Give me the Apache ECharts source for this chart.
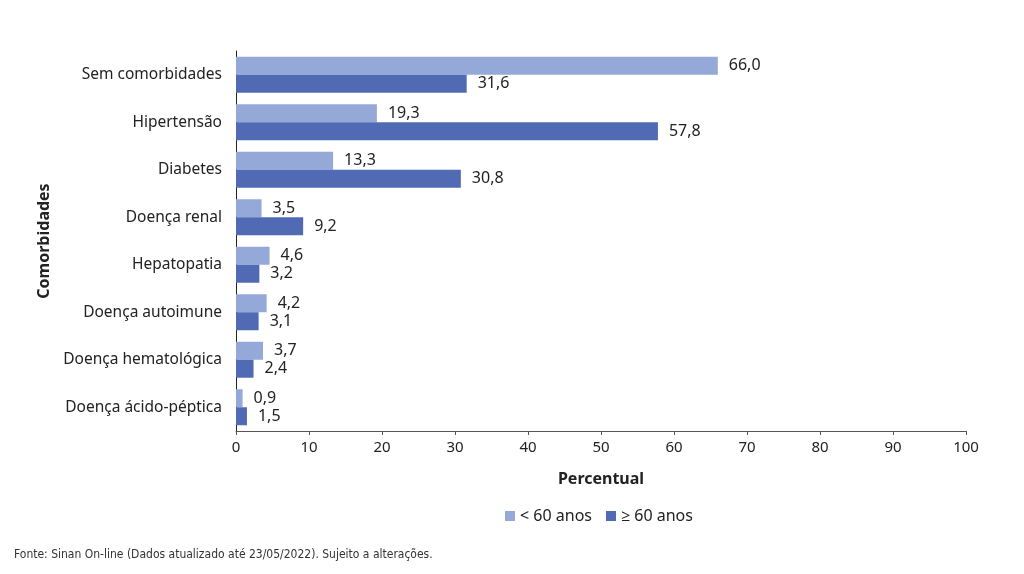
<!DOCTYPE html>
<html>
<head>
<meta charset="utf-8">
<script src="https://cdn.jsdelivr.net/npm/echarts@6/dist/echarts.min.js"></script>
<style>
  html, body { margin: 0; padding: 0; background: #fff; }
  #chart { width: 1024px; height: 574px; }
</style>
</head>
<body>
<div id="chart"></div>
<script>
var categorias = ['Sem comorbidades', 'Hipertensão', 'Diabetes', 'Doença renal', 'Hepatopatia', 'Doença autoimune', 'Doença hematológica', 'Doença ácido-péptica'];
var menos60 = [66.0, 19.3, 13.3, 3.5, 4.6, 4.2, 3.7, 0.9];
var mais60 = [31.6, 57.8, 30.8, 9.2, 3.2, 3.1, 2.4, 1.5];
var xTicks = [0, 10, 20, 30, 40, 50, 60, 70, 80, 90, 100];

var fonte = "'Noto Sans', 'Open Sans', sans-serif";

function fmt(p) {
  return p.value.toFixed(1).replace('.', ',');
}

var chart = echarts.init(document.getElementById('chart'));
var option = {
  animation: false,
  textStyle: { fontFamily: fonte },
  grid: { left: 236, right: 58, top: 51, bottom: 143 },
  legend: {
    top: 503,
    left: 500,
    itemWidth: 10,
    itemHeight: 10,
    itemGap: 14,
    icon: 'rect',
    textStyle: { fontSize: 16, color: '#222', fontFamily: fonte },
    data: ['< 60 anos', '≥ 60 anos']
  },
  xAxis: {
    type: 'value',
    min: xTicks[0],
    max: xTicks[xTicks.length - 1],
    interval: 10,
    name: 'Percentual',
    nameLocation: 'middle',
    nameGap: 40,
    nameTextStyle: { fontSize: 16, fontWeight: 'bold', color: '#222' },
    axisLine: { show: true, lineStyle: { color: '#555', width: 1 } },
    axisTick: { show: true, length: 4, lineStyle: { color: '#555' } },
    axisLabel: { fontSize: 15, color: '#222', margin: 9 },
    splitLine: { show: false }
  },
  yAxis: {
    type: 'category',
    data: categorias,
    inverse: true,
    name: 'Comorbidades',
    nameLocation: 'middle',
    nameGap: 178,
    nameRotate: 90,
    nameTextStyle: { fontSize: 16, fontWeight: 'bold', color: '#222' },
    axisLine: { show: true, lineStyle: { color: '#222', width: 1 } },
    axisTick: { show: false },
    axisLabel: { fontSize: 15.5, color: '#222', margin: 14 }
  },
  series: [
    {
      name: '< 60 anos',
      type: 'bar',
      data: menos60,
      barWidth: 18,
      barGap: '0%',
      itemStyle: { color: '#94a9d8' },
      label: { show: true, position: 'right', distance: 11, fontSize: 16, color: '#222', formatter: fmt }
    },
    {
      name: '≥ 60 anos',
      type: 'bar',
      data: mais60,
      barWidth: 18,
      itemStyle: { color: '#506bb4' },
      label: { show: true, position: 'right', distance: 11, fontSize: 16, color: '#222', formatter: fmt }
    }
  ],
  graphic: [
    {
      type: 'text',
      left: 14,
      top: 549,
      style: {
        text: 'Fonte: Sinan On-line (Dados atualizado até 23/05/2022). Sujeito a alterações.',
        fontSize: 12,
        fill: '#333',
        fontFamily: "'Liberation Sans Narrow', 'DejaVu Sans Condensed', sans-serif"
      }
    }
  ]
};
chart.setOption(option);
</script>
</body>
</html>
